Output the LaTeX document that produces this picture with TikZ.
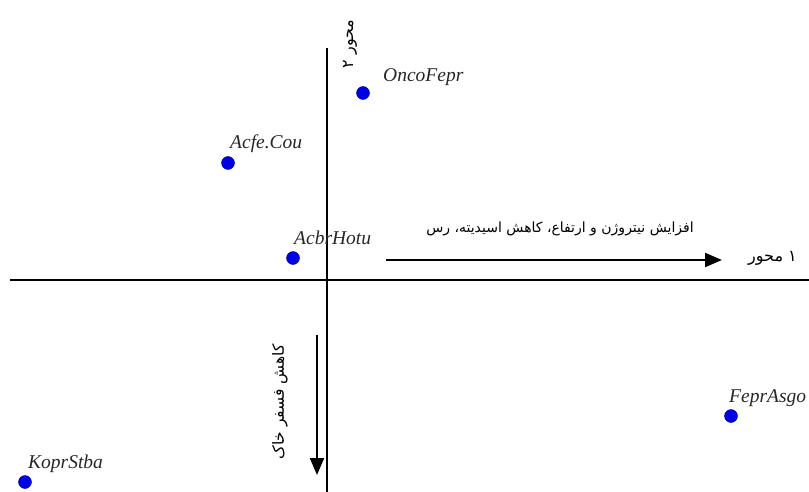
\documentclass[tikz,border=0pt]{standalone}
\usepackage{fontspec}
\setmainfont{Liberation Serif}
\newfontfamily\arabicfont[Script=Arabic]{DejaVu Sans}
\TeXXeTstate=1
\usetikzlibrary{arrows.meta}
\begin{document}
\begin{tikzpicture}[x=1pt,y=-1pt,
  pt/.style={circle,fill=blue!90!black,draw=blue!60!black,inner sep=0pt,minimum size=13pt},
  lab/.style={font=\fontsize{19.5}{19.5}\selectfont\itshape,anchor=base west,inner sep=0pt,text=black!85},
  fa/.style={font=\arabicfont\fontsize{14}{14}\selectfont,inner sep=0pt},
  axis/.style={line width=2.2pt},
  bigarrow/.style={line width=2.2pt,-{Triangle[length=17pt,width=14pt]}}]
\useasboundingbox (0,0) rectangle (809,492);
% axes
\coordinate (vt) at (327,48);
\coordinate (vb) at (327,492);
\coordinate (hl) at (10,280);
\coordinate (hr) at (809,280);
\draw[axis] (vt) -- (vb);
\draw[axis] (hl) -- (hr);
% points
\node[pt] (p1) at (363,93) {};
\node[pt] (p2) at (228,163) {};
\node[pt] (p3) at (293,258) {};
\node[pt] (p4) at (731,416) {};
\node[pt] (p5) at (25,482) {};
\node[lab] (l1) at (383,82) {OncoFepr};
\node[lab] (l2) at (230,149) {Acfe.Cou};
\node[lab] (l3) at (294,244) {AcbrHotu};
\node[lab] (l4) at (729,402) {FeprAsgo};
\node[lab] (l5) at (28,468) {KoprStba};
% arrows
\coordinate (a1s) at (386,260);
\coordinate (a1e) at (722,260);
\draw[bigarrow] (a1s) -- (a1e);
\node[fa] (t1) at (560,229) {\beginR افزایش نیتروژن و ارتفاع، کاهش اسیدیته، رس\endR};
\coordinate (a2s) at (317,335);
\coordinate (a2e) at (317,475);
\draw[bigarrow] (a2s) -- (a2e);
\node[fa,font=\arabicfont\fontsize{15.5}{15.5}\selectfont,rotate=90] (t2) at (280,402) {\beginR کاهش فسفر خاک\endR};
% axis labels
\node[fa,font=\arabicfont\fontsize{16}{16}\selectfont,anchor=west] (ax1) at (748,258) {\beginR محور\endR\ ۱};
\node[fa,font=\arabicfont\fontsize{16}{16}\selectfont,rotate=90] (ax2) at (350,44) {\beginR محور ۲\endR};
\end{tikzpicture}
\end{document}
